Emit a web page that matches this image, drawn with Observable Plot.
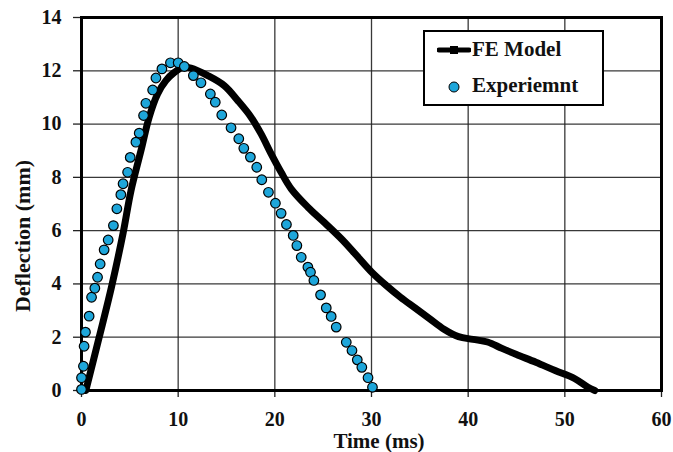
<!DOCTYPE html>
<html>
<head>
<meta charset="utf-8">
<script src="https://cdn.jsdelivr.net/npm/d3@7"></script>
<script src="https://cdn.jsdelivr.net/npm/@observablehq/plot@0.6"></script>
<style>
  html, body { margin: 0; padding: 0; background: #fff; }
  #wrap { position: relative; width: 673px; height: 452px; font-family: "Liberation Serif", "DejaVu Serif", "Times New Roman", serif; font-weight: bold; color: #111; }
  #chart svg text { font-family: "Liberation Serif", "DejaVu Serif", serif !important; font-weight: bold !important; }
  #legend { position: absolute; left: 423px; top: 30px; width: 177px; height: 72px; border: 2px solid #000; background: #fff; }
  .item { position: absolute; left: 0; font-size: 21px; white-space: nowrap; }
  .item svg { position: absolute; }
  #xlab { position: absolute; left: 279px; width: 200px; top: 432px; text-align: center; font-size: 21px; line-height: 18px; }
  #ylab { position: absolute; left: 23px; top: 236px; width: 200px; margin-left: -100px; margin-top: -11px; text-align: center; font-size: 22px; line-height: 22px; transform: rotate(-90deg); }
</style>
</head>
<body>
<div id="wrap">
  <div id="chart"></div>
  <div id="legend">
    <div class="item" style="top:5px;">
      <svg width="34" height="12" style="left:12px; top:7px;"><line x1="2" y1="6" x2="32" y2="6" stroke="#000" stroke-width="5" stroke-linecap="round"/><rect x="13" y="2" width="8" height="8" fill="#000"/></svg>
      <span style="position:absolute; left:47px; top:0;">FE Model</span>
    </div>
    <div class="item" style="top:41px;">
      <svg width="14" height="14" style="left:22px; top:7px;"><circle cx="7" cy="7" r="5" fill="#1ea6da" stroke="#000" stroke-width="1"/></svg>
      <span style="position:absolute; left:47px; top:0;">Experiemnt</span>
    </div>
  </div>
  <div id="xlab"></div>
  <div id="ylab"></div>
</div>
<script>
// FE Model curve (time ms, deflection mm)
const feTime = [0.45, 1.83, 3.1, 4.32, 5.12, 6.15, 7.0, 7.87, 8.73, 9.6, 10.47, 11.33, 13.06, 14.78, 16.17, 17.54, 18.58, 19.62, 20.65, 21.69, 23.42, 25.14, 27.0, 28.5, 30.0, 31.5, 33.0, 34.5, 36.0, 37.5, 39.0, 40.5, 42.0, 43.5, 45.0, 47.0, 49.0, 51.0, 52.4, 53.1];
const feDefl = [0.0, 2.0, 3.88, 5.94, 7.5, 9.0, 10.26, 11.13, 11.63, 11.94, 12.13, 12.1, 11.82, 11.44, 10.88, 10.26, 9.63, 8.88, 8.19, 7.57, 6.88, 6.3, 5.65, 5.05, 4.45, 3.95, 3.5, 3.1, 2.7, 2.3, 2.02, 1.92, 1.82, 1.58, 1.35, 1.06, 0.75, 0.45, 0.12, 0.0];

// Experiment points
const expTime = [0, 0, 0.2, 0.27, 0.41, 0.79, 1.04, 1.38, 1.66, 1.93, 2.34, 2.76, 3.3, 3.66, 4.07, 4.3, 4.77, 5.04, 5.63, 5.97, 6.42, 6.66, 7.36, 7.7, 8.32, 9.2, 10.0, 10.64, 11.57, 12.36, 13.33, 13.84, 14.51, 15.47, 16.27, 16.79, 17.47, 18.13, 18.65, 19.34, 20.06, 20.65, 21.2, 21.9, 22.28, 22.73, 23.42, 23.69, 24.04, 24.73, 25.32, 25.83, 26.35, 27.39, 27.98, 28.53, 29.0, 29.64, 30.1];
const expDefl = [0.04, 0.48, 0.91, 1.66, 2.19, 2.79, 3.5, 3.84, 4.25, 4.75, 5.28, 5.65, 6.19, 6.82, 7.35, 7.76, 8.19, 8.75, 9.32, 9.66, 10.32, 10.78, 11.28, 11.73, 12.07, 12.3, 12.3, 12.16, 11.82, 11.55, 11.13, 10.82, 10.34, 9.86, 9.45, 9.09, 8.76, 8.38, 7.91, 7.44, 7.03, 6.65, 6.23, 5.82, 5.44, 5.0, 4.63, 4.44, 4.13, 3.59, 3.1, 2.78, 2.38, 1.81, 1.5, 1.15, 0.87, 0.48, 0.12];

const xTicks = [0, 10, 20, 30, 40, 50, 60];
const yTicks = [0, 2, 4, 6, 8, 10, 12, 14];
const xLabel = "Time (ms)";
const yLabel = "Deflection (mm)";

document.getElementById("xlab").textContent = xLabel;
document.getElementById("ylab").textContent = yLabel;

const fe = feTime.map((t, i) => ({t, d: feDefl[i]}));
const exp = expTime.map((t, i) => ({t, d: expDefl[i]}));

const chart = Plot.plot({
  width: 673,
  height: 452,
  marginLeft: 81,
  marginRight: 12,
  marginTop: 17,
  marginBottom: 62,
  style: {fontFamily: "\"Liberation Serif\", \"DejaVu Serif\", serif", fontWeight: "bold", fontSize: "20px", color: "#111", background: "#fff", overflow: "visible"},
  x: {domain: [0, 60]},
  y: {domain: [0, 14]},
  marks: [
    Plot.gridX(xTicks, {stroke: "#222", strokeOpacity: 0.9, strokeWidth: 1.3}),
    Plot.gridY(yTicks, {stroke: "#222", strokeOpacity: 0.9, strokeWidth: 1.3}),
    Plot.axisX(xTicks, {tickSize: 7, tickPadding: 14, label: null, stroke: "#222", strokeWidth: 1.3, fontSize: 20}),
    Plot.axisY(yTicks, {tickSize: 8, tickPadding: 12, label: null, stroke: "#222", strokeWidth: 1.3, fontSize: 20}),
    Plot.frame({stroke: "#000", strokeWidth: 3}),
    Plot.line(fe, {x: "t", y: "d", stroke: "#000", strokeWidth: 7, strokeLinecap: "round", strokeLinejoin: "round", curve: "catmull-rom"}),
    Plot.dot(exp, {x: "t", y: "d", r: 4.8, fill: "#1ea6da", stroke: "#000", strokeWidth: 1.2})
  ]
});
document.getElementById("chart").appendChild(chart);
</script>
</body>
</html>
